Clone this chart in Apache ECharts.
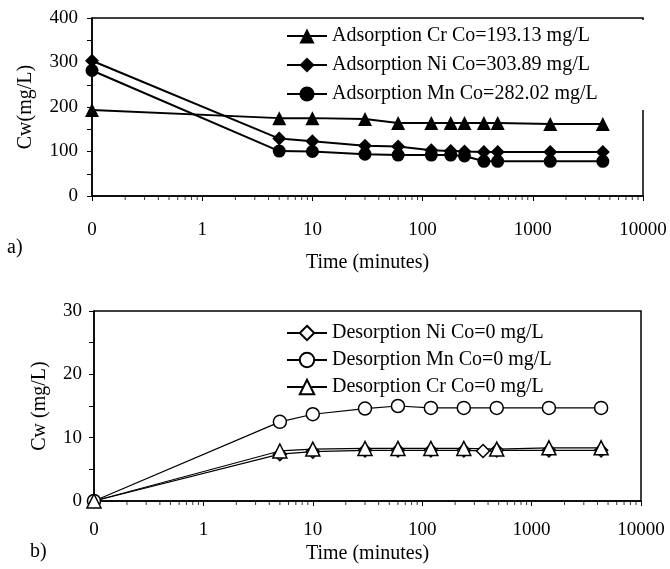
<!DOCTYPE html>
<html>
<head>
<meta charset="utf-8">
<script src="https://cdn.jsdelivr.net/npm/echarts@6/dist/echarts.min.js"></script>
<style>html,body{margin:0;padding:0;background:#fff;}#c{width:670px;height:569px;}</style>
</head>
<body>
<div id="c"></div>
<script>
// ---- Data (time in minutes; time 0 is drawn at the axis origin labelled "0") ----
const timesAds = [0, 5, 10, 30, 60, 120, 180, 240, 360, 480, 1440, 4320];
const crAds = [193.13, 175, 175, 173, 164, 164, 164, 164, 164, 164, 162, 162];
const niAds = [303.89, 129, 123, 113, 111, 103, 101, 100, 99, 99, 99, 99];
const mnAds = [282.02, 101, 100, 94, 92, 92, 92, 90, 78, 78, 78, 78];

const timesNiDes = [0, 5, 10, 30, 60, 120, 240, 360, 480, 1440, 4320];
const niDes = [0, 7.4, 7.8, 8.0, 8.0, 8.0, 8.0, 7.9, 8.0, 8.0, 8.0];
const timesMnDes = [0, 5, 10, 30, 60, 120, 240, 480, 1440, 4320];
const mnDes = [0, 12.5, 13.7, 14.6, 15.0, 14.7, 14.7, 14.7, 14.7, 14.7];
const timesCrDes = [0, 5, 10, 30, 60, 120, 240, 480, 1440, 4320];
const crDes = [0, 7.9, 8.2, 8.3, 8.3, 8.3, 8.3, 8.2, 8.4, 8.4];

const xTickLabels = ['0', '1', '10', '100', '1000', '10000'];
const logMinorTicks = [0.2,0.3,0.4,0.5,0.6,0.7,0.8,0.9, 2,3,4,5,6,7,8,9, 20,30,40,50,60,70,80,90,
  200,300,400,500,600,700,800,900, 2000,3000,4000,5000,6000,7000,8000,9000];

const ORIGIN = 0.1; // log axis origin, labelled "0"
function pairs(t, v) { return t.map((x, i) => [x === 0 ? ORIGIN : x, v[i]]); }

const FONT = 'Liberation Serif';
const black = '#000';

function xAxisCfg(gridIndex, labelMargin, nameGap) {
  return {
    type: 'log', logBase: 10, gridIndex, min: ORIGIN, max: 10000,
    name: 'Time (minutes)', nameLocation: 'middle', nameGap,
    nameTextStyle: { fontFamily: FONT, fontSize: 20, color: black },
    axisLine: { show: true, onZero: false, lineStyle: { color: black, width: 1.5 } },
    axisTick: { show: true, length: 5, lineStyle: { color: black, width: 1 } },
    axisLabel: {
      fontFamily: FONT, fontSize: 19, color: black, margin: labelMargin,
      formatter: v => xTickLabels[Math.round(Math.log10(v)) + 1]
    },
    splitLine: { show: false }
  };
}
function yAxisCfg(gridIndex, max, interval, name, labelMargin, nameGap) {
  return {
    type: 'value', gridIndex, min: 0, max, interval,
    name, nameLocation: 'middle', nameGap, nameRotate: 90,
    nameTextStyle: { fontFamily: FONT, fontSize: 20, color: black },
    axisLine: { show: true, lineStyle: { color: black, width: 1.5 } },
    axisTick: { show: true, length: 5, lineStyle: { color: black, width: 1 } },
    minorTick: { show: true, splitNumber: 2, length: 5, lineStyle: { color: black, width: 1 } },
    axisLabel: { fontFamily: FONT, fontSize: 19, color: black, margin: labelMargin },
    splitLine: { show: false }
  };
}
function minorTickSeries(xi, yi) {
  return {
    type: 'scatter', xAxisIndex: xi, yAxisIndex: yi, silent: true, clip: false,
    symbol: 'rect', symbolSize: [1, 4], symbolOffset: [0, 2],
    itemStyle: { color: black }, z: 1,
    data: logMinorTicks.map(t => [t, 0])
  };
}
function filledLine(name, symbol, size, data) {
  return {
    type: 'line', name, xAxisIndex: 0, yAxisIndex: 0, data,
    symbol, symbolSize: size, showSymbol: true,
    lineStyle: { color: black, width: 2 },
    itemStyle: { color: black, borderColor: black, borderWidth: 0 },
    emphasis: { disabled: true }, animation: false
  };
}
function hollowLine(name, symbol, size, data) {
  return {
    type: 'line', name, xAxisIndex: 1, yAxisIndex: 1, data,
    symbol, symbolSize: size, showSymbol: true,
    lineStyle: { color: black, width: 1.2 },
    itemStyle: { color: '#fff', borderColor: black, borderWidth: 1.5 },
    emphasis: { disabled: true }, animation: false
  };
}

const chart = echarts.init(document.getElementById('c'), null, { renderer: 'canvas' });
chart.setOption({
  animation: false,
  backgroundColor: '#fff',
  grid: [
    { left: 92, top: 18, width: 551, height: 178, show: true, borderColor: black, borderWidth: 1.5, containLabel: false },
    { left: 94, top: 311, width: 547, height: 190, show: true, borderColor: black, borderWidth: 1.5, containLabel: false }
  ],
  xAxis: [xAxisCfg(0, 25, 57), xAxisCfg(1, 20, 43)],
  yAxis: [
    yAxisCfg(0, 400, 100, 'Cw(mg/L)', 14, 56),
    yAxisCfg(1, 30, 10, 'Cw (mg/L)', 12, 44)
  ],
  legend: [
    {
      orient: 'vertical', left: 281, top: 20, itemGap: 9, itemWidth: 40, itemHeight: 19,
      padding: [6, 60, 6, 5], backgroundColor: '#fff', z: 10,
      textStyle: { fontFamily: FONT, fontSize: 20, color: black },
      data: ['Adsorption Cr Co=193.13 mg/L', 'Adsorption Ni Co=303.89 mg/L', 'Adsorption Mn Co=282.02 mg/L']
    },
    {
      orient: 'vertical', left: 281, top: 317, itemGap: 7, itemWidth: 40, itemHeight: 18,
      padding: [6, 20, 6, 5],
      textStyle: { fontFamily: FONT, fontSize: 20, color: black },
      data: ['Desorption Ni Co=0 mg/L', 'Desorption Mn Co=0 mg/L', 'Desorption Cr Co=0 mg/L']
    }
  ],
  graphic: [
    { type: 'text', left: 7, top: 238, style: { text: 'a)', font: '20px ' + FONT, fill: black } },
    { type: 'text', left: 30, top: 542, style: { text: 'b)', font: '20px ' + FONT, fill: black } }
  ],
  series: [
    minorTickSeries(0, 0),
    minorTickSeries(1, 1),
    filledLine('Adsorption Cr Co=193.13 mg/L', 'triangle', 14, pairs(timesAds, crAds)),
    filledLine('Adsorption Ni Co=303.89 mg/L', 'diamond', 14, pairs(timesAds, niAds)),
    filledLine('Adsorption Mn Co=282.02 mg/L', 'circle', 13, pairs(timesAds, mnAds)),
    hollowLine('Desorption Ni Co=0 mg/L', 'diamond', 13, pairs(timesNiDes, niDes)),
    hollowLine('Desorption Mn Co=0 mg/L', 'circle', 13, pairs(timesMnDes, mnDes)),
    hollowLine('Desorption Cr Co=0 mg/L', 'triangle', 14, pairs(timesCrDes, crDes))
  ]
});
</script>
</body>
</html>
